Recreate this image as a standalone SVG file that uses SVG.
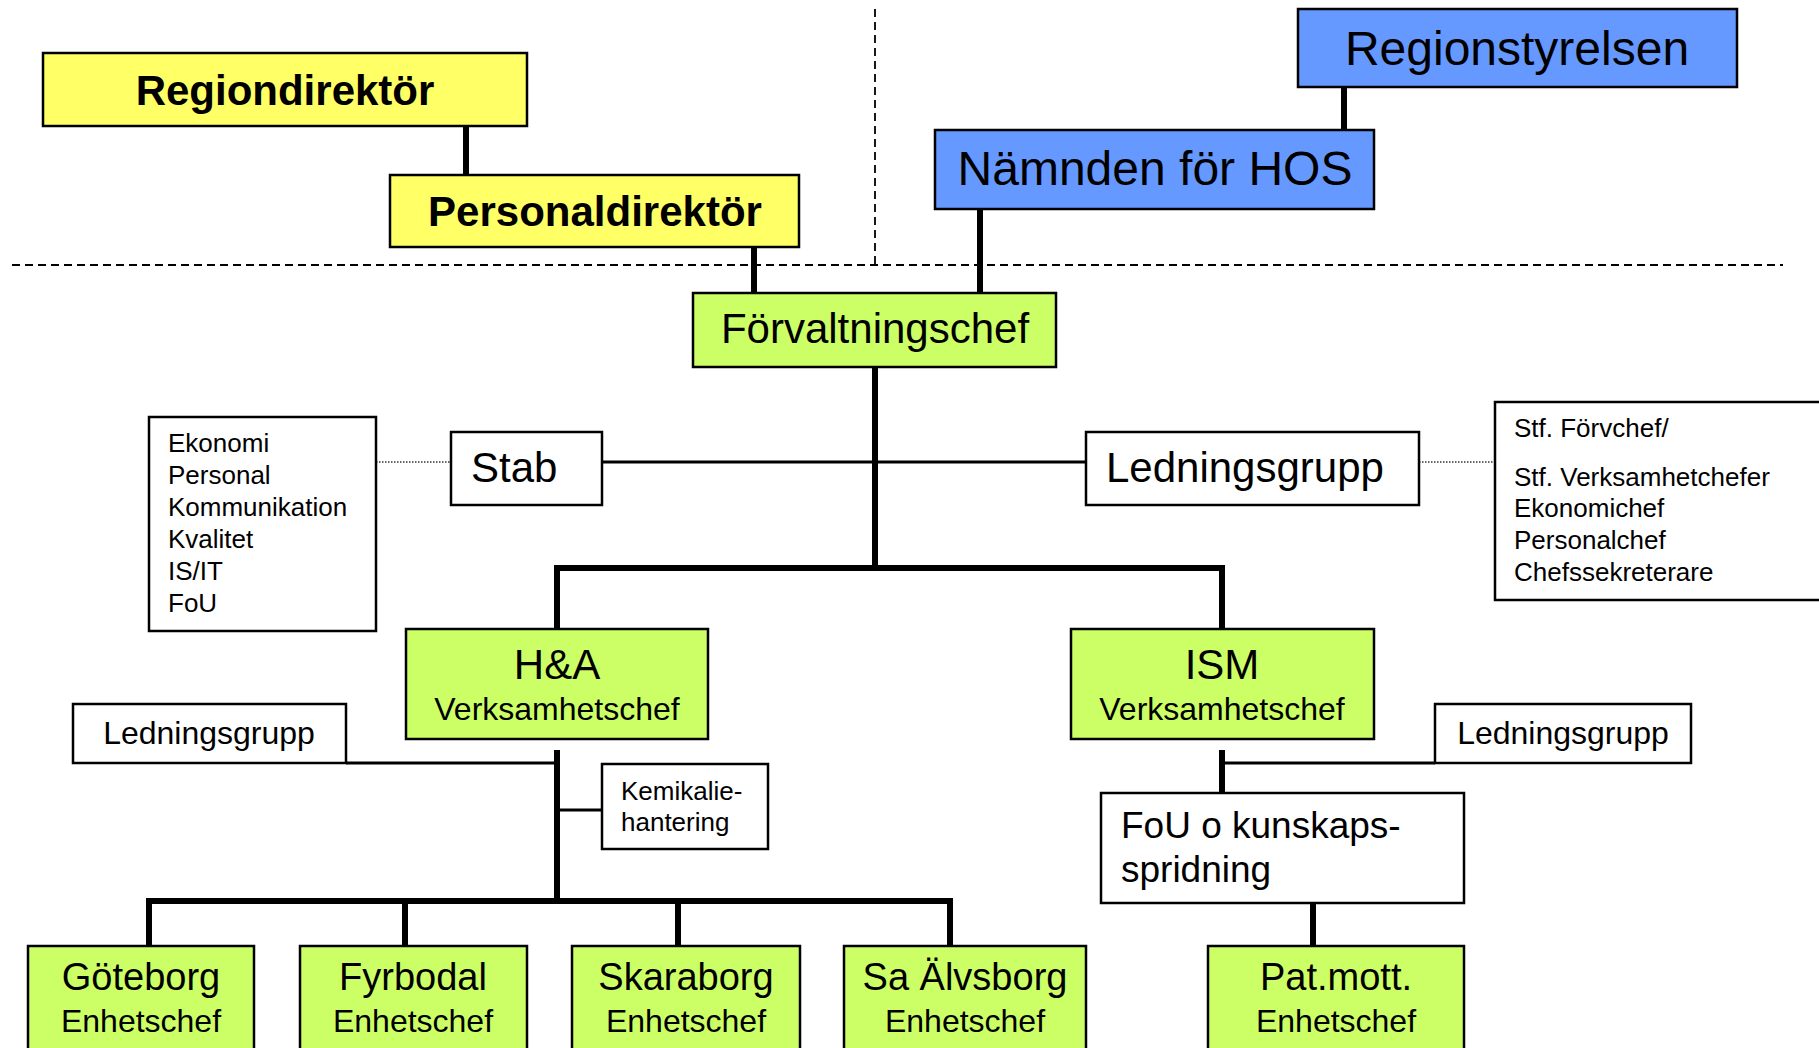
<svg xmlns="http://www.w3.org/2000/svg" width="1819" height="1048" viewBox="0 0 1819 1048">
<style>
text{font-family:"Liberation Sans",Arial,Helvetica,sans-serif;fill:#000}
.c{text-anchor:middle}
.box{stroke:#000;stroke-width:2.5}
.y{fill:#FFFF66}.b{fill:#6699FF}.g{fill:#CCFF66}.w{fill:#fff}
.thick{stroke:#000;stroke-width:6;fill:none}
.mid{stroke:#000;stroke-width:3;fill:none}
.dot{stroke:#333;stroke-width:1.5;stroke-dasharray:1.5 1.5;fill:none}
.dash{stroke:#000;stroke-width:1.8;stroke-dasharray:8 5;fill:none}
.f42{font-size:42px}.f32{font-size:32px}.f26{font-size:26px}.f38{font-size:38px}.f48{font-size:48px}
</style>
<rect width="1819" height="1048" fill="#fff"/>
<g id="separators">
<line class="dash" x1="12" y1="265" x2="1783" y2="265"/>
<line class="dash" x1="875" y1="9" x2="875" y2="264"/>
</g>
<g id="connectors">
<line class="thick" x1="466" y1="126" x2="466" y2="175"/>
<line class="thick" x1="1344" y1="87" x2="1344" y2="130"/>
<line class="thick" x1="754" y1="247" x2="754" y2="293"/>
<line class="thick" x1="980" y1="209" x2="980" y2="293"/>
<line class="thick" x1="875" y1="367" x2="875" y2="568"/>
<line class="mid" x1="602" y1="462" x2="1086" y2="462"/>
<line class="dot" x1="376" y1="462" x2="451" y2="462"/>
<line class="dot" x1="1419" y1="462" x2="1495" y2="462"/>
<path class="thick" d="M557,629 V568 H1222 V629"/>
<line class="thick" x1="557" y1="750" x2="557" y2="901"/>
<line class="mid" x1="346" y1="763" x2="557" y2="763"/>
<line class="mid" x1="557" y1="810" x2="602" y2="810"/>
<path class="thick" d="M149,946 V901 H950 V946"/>
<line class="thick" x1="405" y1="901" x2="405" y2="946"/>
<line class="thick" x1="678" y1="901" x2="678" y2="946"/>
<line class="thick" x1="1222" y1="750" x2="1222" y2="793"/>
<line class="mid" x1="1222" y1="763" x2="1435" y2="763"/>
<line class="thick" x1="1313" y1="903" x2="1313" y2="946"/>
</g>
<g id="regiondirektor"><rect class="box y" x="43" y="53" width="484" height="73"/><text class="c f42" x="285" y="105" font-weight="bold">Regiondirektör</text></g>
<g id="personaldirektor"><rect class="box y" x="390" y="175" width="409" height="72"/><text class="c f42" x="595" y="226" font-weight="bold">Personaldirektör</text></g>
<g id="regionstyrelsen"><rect class="box b" x="1298" y="9" width="439" height="78"/><text class="c f48" x="1517" y="65">Regionstyrelsen</text></g>
<g id="namnden"><rect class="box b" x="935" y="130" width="439" height="79"/><text class="c f48" x="1155" y="185">Nämnden för HOS</text></g>
<g id="forvaltningschef"><rect class="box g" x="693" y="293" width="363" height="74"/><text class="c f42" x="875" y="343">Förvaltningschef</text></g>
<g id="stab-list"><rect class="box w" x="149" y="417" width="227" height="214" stroke-width="2"/>
<text class="f26" x="168"><tspan x="168" y="452">Ekonomi</tspan><tspan x="168" y="484">Personal</tspan><tspan x="168" y="516">Kommunikation</tspan><tspan x="168" y="548">Kvalitet</tspan><tspan x="168" y="580">IS/IT</tspan><tspan x="168" y="612">FoU</tspan></text></g>
<g id="stab"><rect class="box w" x="451" y="432" width="151" height="73"/><text class="f42" x="471" y="482">Stab</text></g>
<g id="ledningsgrupp-top"><rect class="box w" x="1086" y="432" width="333" height="73"/><text class="f42" x="1106" y="482">Ledningsgrupp</text></g>
<g id="ledning-list"><rect class="box w" x="1495" y="402" width="340" height="198" stroke-width="2"/>
<text class="f26"><tspan x="1514" y="437">Stf. Förvchef/</tspan><tspan x="1514" y="486">Stf. Verksamhetchefer</tspan><tspan x="1514" y="517">Ekonomichef</tspan><tspan x="1514" y="549">Personalchef</tspan><tspan x="1514" y="581">Chefssekreterare</tspan></text></g>
<g id="ha"><rect class="box g" x="406" y="629" width="302" height="110"/><text class="c f42" x="557" y="679">H&amp;A</text><text class="c f32" x="557" y="720">Verksamhetschef</text></g>
<g id="ism"><rect class="box g" x="1071" y="629" width="303" height="110"/><text class="c f42" x="1222" y="679">ISM</text><text class="c f32" x="1222" y="720">Verksamhetschef</text></g>
<g id="ledningsgrupp-ha"><rect class="box w" x="73" y="704" width="273" height="59" stroke-width="2"/><text class="c f32" x="209" y="744">Ledningsgrupp</text></g>
<g id="ledningsgrupp-ism"><rect class="box w" x="1435" y="704" width="256" height="59" stroke-width="2"/><text class="c f32" x="1563" y="744">Ledningsgrupp</text></g>
<g id="kemikalie"><rect class="box w" x="602" y="764" width="166" height="85" stroke-width="2"/><text class="f26"><tspan x="621" y="800">Kemikalie-</tspan><tspan x="621" y="831">hantering</tspan></text></g>
<g id="fou"><rect class="box w" x="1101" y="793" width="363" height="110" stroke-width="2"/><text style="font-size:37px"><tspan x="1121" y="838">FoU o kunskaps-</tspan><tspan x="1121" y="882">spridning</tspan></text></g>
<g id="goteborg"><rect class="box g" x="28" y="946" width="226" height="120"/><text class="c f38" x="141" y="990">Göteborg</text><text class="c f32" x="141" y="1032">Enhetschef</text></g>
<g id="fyrbodal"><rect class="box g" x="300" y="946" width="227" height="120"/><text class="c f38" x="413" y="990">Fyrbodal</text><text class="c f32" x="413" y="1032">Enhetschef</text></g>
<g id="skaraborg"><rect class="box g" x="572" y="946" width="228" height="120"/><text class="c f38" x="686" y="990">Skaraborg</text><text class="c f32" x="686" y="1032">Enhetschef</text></g>
<g id="saalvsborg"><rect class="box g" x="844" y="946" width="242" height="120"/><text class="c f38" x="965" y="990">Sa Älvsborg</text><text class="c f32" x="965" y="1032">Enhetschef</text></g>
<g id="patmott"><rect class="box g" x="1208" y="946" width="256" height="120"/><text class="c f38" x="1336" y="990">Pat.mott.</text><text class="c f32" x="1336" y="1032">Enhetschef</text></g>
</svg>
